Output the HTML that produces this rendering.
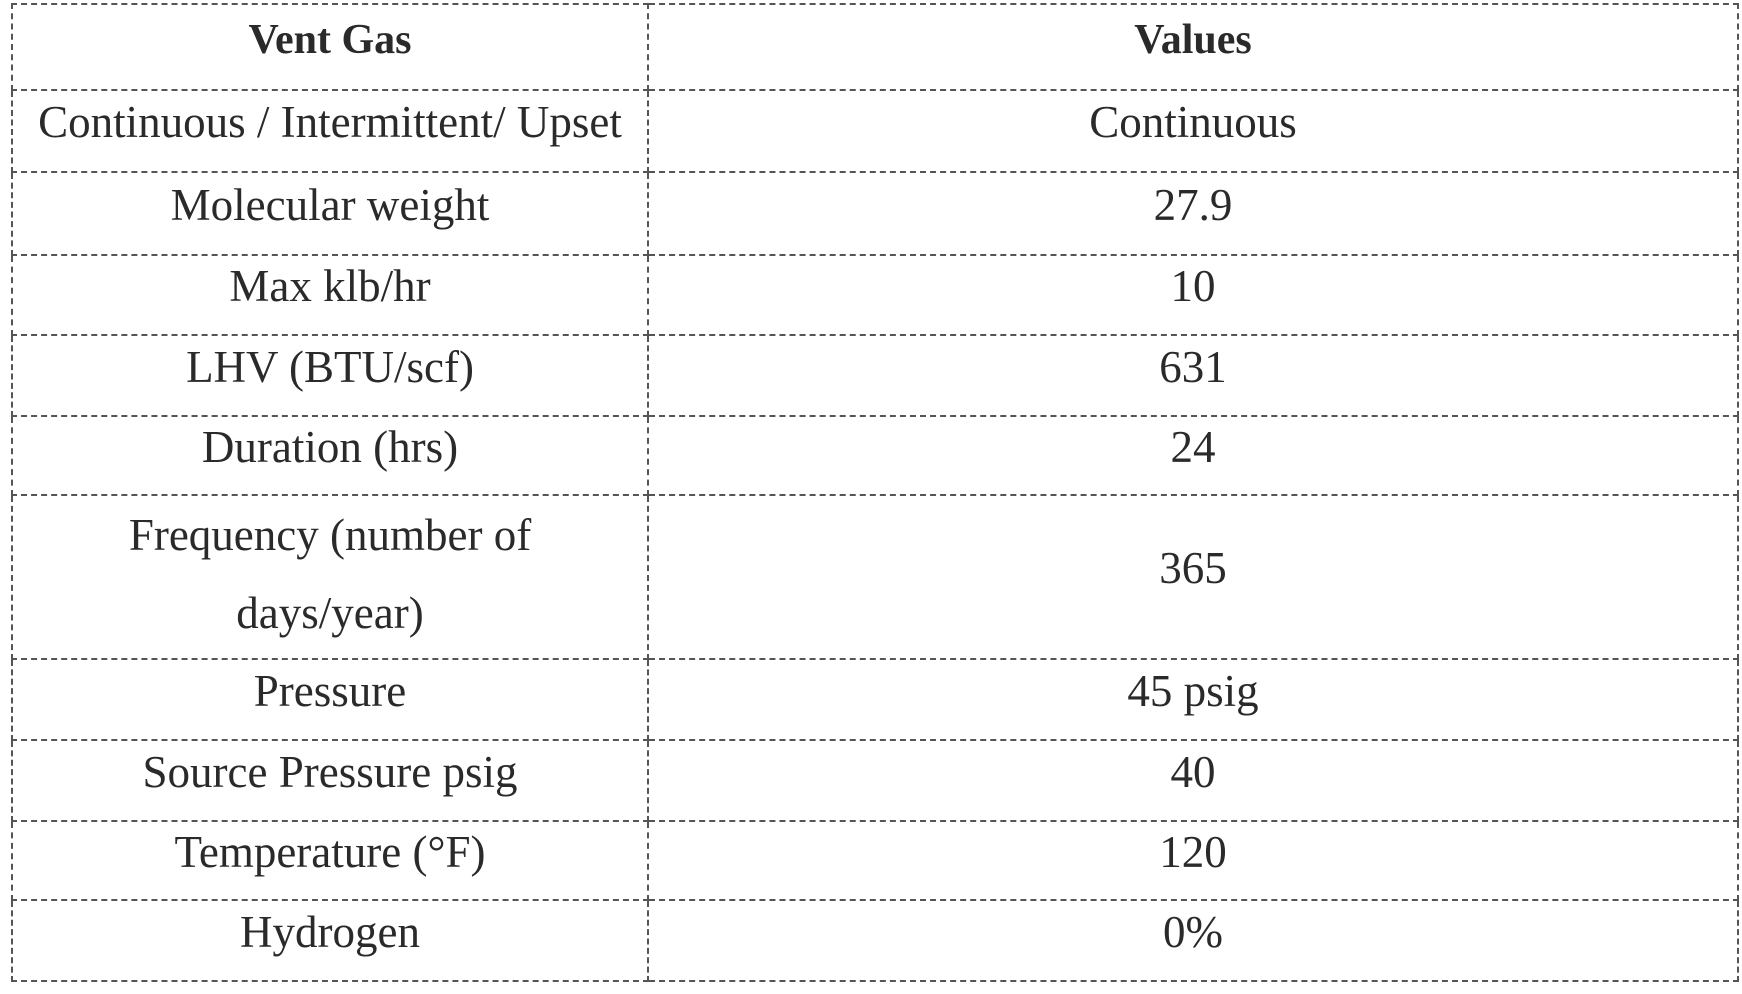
<!DOCTYPE html>
<html><head><style>
html,body{margin:0;padding:0;background:#fff;width:1742px;height:994px;overflow:hidden}
table{position:absolute;left:11px;top:3px;width:1728px;border-collapse:collapse;font-family:"Liberation Serif",serif;font-size:45px;color:#2a2a2a;table-layout:fixed}
td{border:2px dashed #555;text-align:center;padding:0 0 18px 0;line-height:50px;box-sizing:border-box}
th{border:2px dashed #555;font-weight:bold;height:86px;padding:0 0 14px 0;font-size:42px;box-sizing:border-box}
td.f{line-height:78px;padding:0 0 6px 0}
</style></head><body>
<table>
<col style="width:636px"><col>
<tr style="height:86px"><th>Vent Gas</th><th>Values</th></tr>
<tr style="height:82px"><td>Continuous / Intermittent/ Upset</td><td>Continuous</td></tr>
<tr style="height:83px"><td>Molecular weight</td><td>27.9</td></tr>
<tr style="height:80px"><td>Max klb/hr</td><td>10</td></tr>
<tr style="height:81px"><td>LHV (BTU/scf)</td><td>631</td></tr>
<tr style="height:79px"><td>Duration (hrs)</td><td>24</td></tr>
<tr style="height:160px"><td class="f">Frequency (number of<br>days/year)</td><td>365</td></tr>
<tr style="height:81px"><td>Pressure</td><td>45 psig</td></tr>
<tr style="height:81px"><td>Source Pressure psig</td><td>40</td></tr>
<tr style="height:79px"><td>Temperature (°F)</td><td>120</td></tr>
<tr style="height:81px"><td>Hydrogen</td><td>0%</td></tr>
</table>
</body></html>
